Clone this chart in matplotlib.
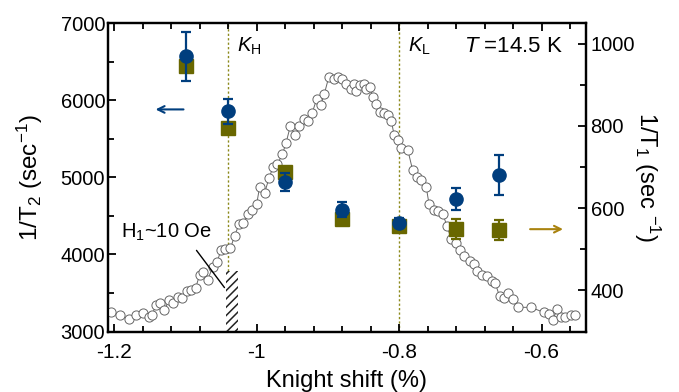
import matplotlib
matplotlib.use('Agg')
import matplotlib.pyplot as plt
from matplotlib.patches import Rectangle
from matplotlib.ticker import MultipleLocator, FuncFormatter

plt.rcParams['font.family'] = ['Liberation Sans', 'DejaVu Sans']
plt.rcParams['mathtext.fontset'] = 'custom'
plt.rcParams['mathtext.rm'] = 'Liberation Sans'
plt.rcParams['mathtext.it'] = 'Liberation Sans:italic'
plt.rcParams['axes.unicode_minus'] = False
plt.rcParams['hatch.linewidth'] = 1.1

# relaxation rates vs Knight shift
ks = [-1.10, -1.04, -0.96, -0.88, -0.80, -0.72, -0.66]
inv_t2 = [6570, 5855, 4940, 4580, 4410, 4715, 5025]
inv_t2_err = [318, 163, 117, 97, 60, 145, 260]
inv_t1 = [946, 795, 687, 574, 556, 549, 547]
inv_t1_err = [10, 10, 10, 10, 10, 25, 25]

# NMR spectrum (open circles), plotted in left-axis units
spec_x = [-1.205, -1.192, -1.179, -1.169, -1.160, -1.152, -1.147, -1.142, -1.136, -1.130,
          -1.123, -1.117, -1.111, -1.105, -1.098, -1.092, -1.086, -1.080, -1.075, -1.069,
          -1.062, -1.056, -1.050, -1.044, -1.037, -1.031, -1.025, -1.019, -1.013, -1.007,
          -1.000, -0.996, -0.989, -0.983, -0.977, -0.971, -0.964, -0.959, -0.953, -0.946,
          -0.941, -0.934, -0.928, -0.922, -0.916, -0.910, -0.905, -0.899, -0.892, -0.886,
          -0.880, -0.874, -0.868, -0.864, -0.860, -0.855, -0.850, -0.846, -0.841, -0.837,
          -0.832, -0.827, -0.821, -0.816, -0.811, -0.807, -0.801, -0.797, -0.788, -0.781,
          -0.775, -0.769, -0.762, -0.758, -0.751, -0.745, -0.739, -0.733, -0.727, -0.720,
          -0.714, -0.709, -0.701, -0.695, -0.690, -0.683, -0.677, -0.670, -0.665, -0.659,
          -0.653, -0.647, -0.640, -0.633, -0.615, -0.597, -0.590, -0.584, -0.578, -0.572,
          -0.567, -0.559, -0.553]
spec_y = [3260, 3215, 3160, 3220, 3245, 3195, 3210, 3345, 3365, 3285,
          3405, 3365, 3445, 3440, 3525, 3540, 3565, 3740, 3770, 3670,
          3835, 3900, 4060, 4075, 4080, 4245, 4390, 4405, 4520, 4570,
          4660, 4875, 4795, 4985, 5135, 5170, 5300, 5440, 5660, 5545,
          5660, 5760, 5730, 5840, 6010, 5935, 6085, 6295, 6270, 6295,
          6270, 6215, 6140, 6215, 6120, 6195, 6215, 6150, 6165, 6045,
          5955, 5850, 5840, 5805, 5730, 5545, 5490, 5375, 5360, 5090,
          5005, 4970, 4875, 4650, 4570, 4560, 4530, 4375, 4205, 4145,
          4060, 3975, 3920, 3880, 3780, 3740, 3715, 3660, 3625, 3460,
          3430, 3495, 3425, 3315, 3315, 3250, 3235, 3155, 3295, 3185,
          3195, 3215, 3215]

k_lines = [-1.04, -0.80]
k_names = [r'$K_{\rm H}$', r'$K_{\rm L}$']
field_box = (-1.043, 3000, 0.016, 790)  # x, y, width, height of the H1 ~ 10 Oe window

blue = '#003e7e'
olive = '#696700'
gold = '#a9830f'
dotc = '#8c8a1c'

fig = plt.figure(figsize=(6.79, 3.92), dpi=100)
ax = fig.add_axes([0.159, 0.154, 0.7036, 0.7873])
ax_r = ax.twinx()
ax_b = ax.twinx()

# spectrum
ax.plot(spec_x, spec_y, '-', color='#666666', lw=0.7, zorder=2)
ax.plot(spec_x, spec_y, 'o', ms=6.6, mfc='white', mec='#666666', mew=0.7, zorder=3)

# K_H / K_L lines
rect_top = field_box[1] + field_box[3]
ax.vlines(k_lines, [rect_top, 3000], 7000, colors=dotc, lw=1.0, linestyles=(0, (1.6, 1.6)), zorder=1)
ax.add_patch(Rectangle(field_box[:2], field_box[2], field_box[3], facecolor='white',
                       edgecolor='#222222', lw=0, hatch='////', zorder=2))
for k, name in zip(k_lines, k_names):
    ax.text(k + 0.012, 6700, name, fontsize=14.5, va='center', ha='left')
ax.text(-0.709, 6700, r'$T$ =14.5 K', fontsize=16, va='center', ha='left')
ax.annotate('', xy=(-1.043, 3542), xytext=(-1.087, 4082),
            arrowprops=dict(arrowstyle='-', lw=1.0, color='black'))
ax.text(-1.191, 4290, r'H$_1$~10 Oe', fontsize=14.5, va='center', ha='left')

# 1/T1 on right axis
ax_r.errorbar(ks, inv_t1, yerr=inv_t1_err, fmt='s', ms=10, color=olive, mec=olive,
              elinewidth=1.6, capsize=3.3, capthick=1.6, zorder=4)
ax_r.annotate('', xy=(-0.566, 549), xytext=(-0.620, 549),
              arrowprops=dict(arrowstyle='->', lw=1.5, color=gold, mutation_scale=12))

# 1/T2 on left axis (drawn on top)
ax_b.errorbar(ks, inv_t2, yerr=inv_t2_err, fmt='o', ms=9.5, color=blue, mec=blue,
              elinewidth=1.6, capsize=3.3, capthick=1.6, zorder=5)
ax_b.annotate('', xy=(-1.146, 5880), xytext=(-1.099, 5880),
              arrowprops=dict(arrowstyle='->', lw=1.5, color=blue, mutation_scale=12))

ax.set_xlim(-1.209, -0.538)
ax.set_ylim(3000, 7000)
ax_b.set_ylim(3000, 7000)
ax_r.set_ylim(300, 1050)

ax.xaxis.set_major_locator(MultipleLocator(0.2))
ax.xaxis.set_minor_locator(MultipleLocator(0.04))
ax.xaxis.set_major_formatter(FuncFormatter(lambda v, p: '%g' % round(v, 2)))
ax.yaxis.set_major_locator(MultipleLocator(1000))
ax.yaxis.set_minor_locator(MultipleLocator(500))
ax_r.yaxis.set_major_locator(MultipleLocator(200))
ax_r.yaxis.set_minor_locator(MultipleLocator(100))

ax.tick_params(axis='x', which='both', direction='in', top=True, labelsize=15, pad=8, width=1.3)
ax.tick_params(axis='x', which='major', length=6)
ax.tick_params(axis='x', which='minor', length=4.5)
ax.tick_params(axis='y', which='both', direction='in', labelsize=14.5, pad=2, width=1.3)
ax.tick_params(axis='y', which='major', length=6)
ax.tick_params(axis='y', which='minor', length=4)
ax_r.tick_params(axis='y', which='both', direction='in', labelsize=14.5, pad=3.5, width=1.3)
ax_r.tick_params(axis='y', which='major', length=5.5)
ax_r.tick_params(axis='y', which='minor', length=4)

ax_b.set_yticks([])
ax_b.axis('off')
for a in (ax, ax_r):
    for s in a.spines.values():
        s.set_linewidth(1.6)

ax.set_xlabel('Knight shift (%)', fontsize=17, labelpad=6)
ax.set_ylabel(r'1/T$_2$ (sec$^{-1}$)', fontsize=17.5, labelpad=11)
ax_r.set_ylabel(r'1/T$_1$ (sec $^{-1}$)', fontsize=17, rotation=270, va='bottom', labelpad=-2)

fig.savefig('out.png', dpi=100)
